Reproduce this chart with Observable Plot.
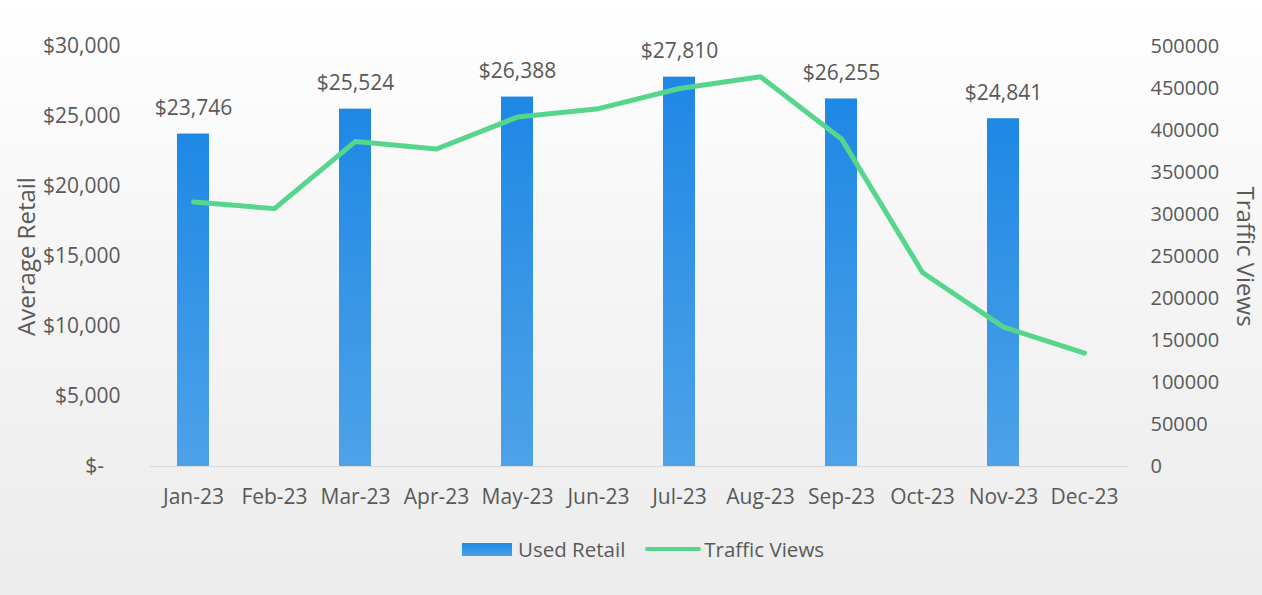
<!DOCTYPE html>
<html><head><meta charset="utf-8">
<script src="https://cdn.jsdelivr.net/npm/d3@7"></script>
<script src="https://cdn.jsdelivr.net/npm/@observablehq/plot@0.6"></script>
<style>
html,body{margin:0;padding:0;}
body{width:1262px;height:595px;background:linear-gradient(#ffffff 0%, #f6f6f6 40%, #ececec 100%);font-family:"Open Sans",sans-serif;overflow:hidden;position:relative;color:#595959}
#legend{position:absolute;top:536px;left:462px;display:flex;align-items:center;font-size:20.5px;height:26px;}
.sw-bar{width:50px;height:13px;background:linear-gradient(#1e88e5,#4aa0e8);margin-right:6px}
.sw-line{width:56px;height:4px;background:#55d68c;border-radius:2px;margin-right:3px;margin-left:20px}
</style></head><body><div id="chart"></div><div id="legend"></div>
<script>
const months = ["Jan-23","Feb-23","Mar-23","Apr-23","May-23","Jun-23","Jul-23","Aug-23","Sep-23","Oct-23","Nov-23","Dec-23"];
const retailMonths = ["Jan-23","Mar-23","May-23","Jul-23","Sep-23","Nov-23"];
const retailValues = [23746,25524,26388,27810,26255,24841];
const trafficValues = [315000,307000,387000,378000,416000,426000,450000,464000,390000,231000,166000,135000];
const leftTicks = [0,5000,10000,15000,20000,25000,30000];
const rightTicks = [0,50000,100000,150000,200000,250000,300000,350000,400000,450000,500000];
const seriesNames = ["Used Retail","Traffic Views"];
const axisTitles = ["Average Retail","Traffic Views"];

const ratio = 30000 / 500000;
const retail = retailMonths.map((m,i)=>({month:m, value:retailValues[i]}));
const traffic = months.map((m,i)=>({month:m, views:trafficValues[i]}));
const fmt = d3.format(",");

const plot = Plot.plot({
  width:1262, height:520, marginLeft:150, marginRight:134, marginTop:46, marginBottom:54,
  style:{background:"transparent", fontFamily:"'Open Sans', sans-serif", fontSize:"20px", color:"#595959"},
  x:{type:"band", domain:months, paddingInner:0.6, paddingOuter:0.3},
  y:{domain:[0,30000]},
  marks:[
    Plot.axisX({tickSize:0, tickPadding:23, label:null, fontSize:21}),
    Plot.axisY({ticks:leftTicks, tickFormat:d=> d===0 ? "$-\u00a0\u00a0\u00a0" : "$"+fmt(d), tickSize:0, tickPadding:30, label:null, fontSize:21}),
    Plot.axisY({anchor:"right", ticks:rightTicks.map(t=>t*ratio), tickFormat:d=>String(Math.round(d/ratio)), tickSize:0, tickPadding:22, label:null, fontSize:20}),
    Plot.ruleY([0], {stroke:"#d9d9d9", strokeWidth:1}),
    Plot.barY(retail, {x:"month", y:"value", fill:"url(#barGrad)"}),
    Plot.line(traffic, {x:"month", y:d=>d.views*ratio, stroke:"#55d68c", strokeWidth:5, strokeLinejoin:"round", strokeLinecap:"round"}),
    Plot.text(retail, {x:"month", y:"value", text:d=>"$"+fmt(d.value), lineAnchor:"bottom", dy:-19, fill:"#595959", fontSize:21}),
    Plot.text([axisTitles[0]], {frameAnchor:"left", rotate:-90, dx:-123, text:d=>d, textAnchor:"middle", lineAnchor:"middle", fill:"#595959", fontSize:24}),
    Plot.text([axisTitles[1]], {frameAnchor:"right", rotate:90, dx:116, text:d=>d, textAnchor:"middle", lineAnchor:"middle", fill:"#595959", fontSize:24})
  ]
});
const defs = d3.select(plot).insert("defs", ":first-child");
const g = defs.append("linearGradient").attr("id","barGrad").attr("x1",0).attr("y1",0).attr("x2",0).attr("y2",1);
g.append("stop").attr("offset","0%").attr("stop-color","#1e88e5");
g.append("stop").attr("offset","100%").attr("stop-color","#4ea2e8");
document.getElementById("chart").appendChild(plot);

const legend = document.getElementById("legend");
legend.innerHTML = `<div class="sw-bar"></div><span>${seriesNames[0]}</span><div class="sw-line"></div><span>${seriesNames[1]}</span>`;
</script>
</body></html>
